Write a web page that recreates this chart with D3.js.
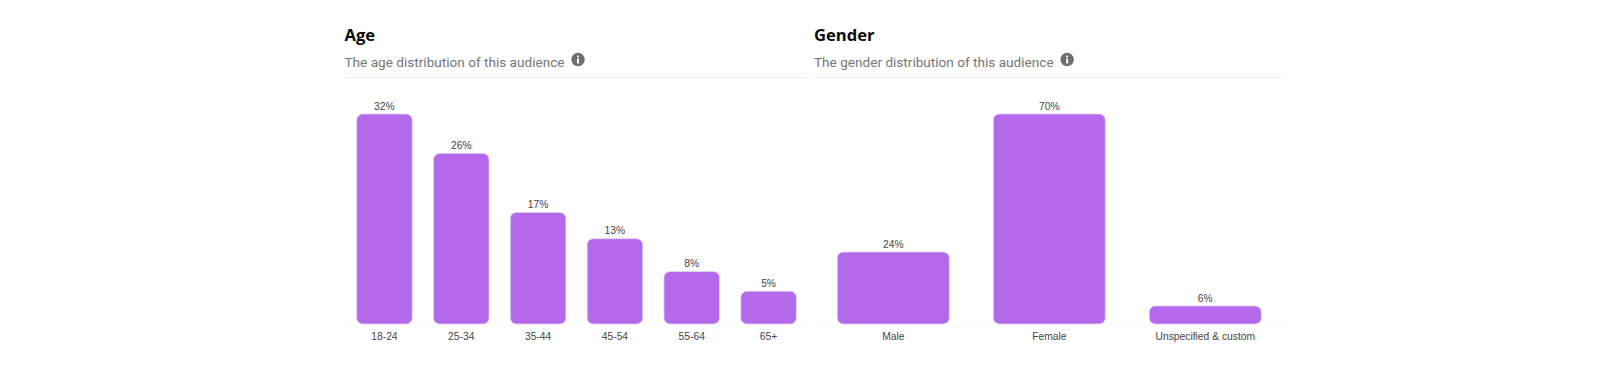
<!DOCTYPE html>
<html>
<head>
<meta charset="utf-8">
<script src="https://cdn.jsdelivr.net/npm/d3@7"></script>
<style>
  html, body { margin: 0; padding: 0; background: #fff; overflow: hidden; }
  .title { font-family: "Open Sans", sans-serif; font-size: 16.6px; font-weight: 700; fill: #0a0a0a; }
  .subtitle { font-family: Roboto, sans-serif; font-size: 13.6px; fill: #767676; }
  .value, .tick text { font-family: "Liberation Sans", Arial, sans-serif; font-size: 10.3px; fill: #444; }
</style>
</head>
<body>
<div id="chart"></div>
<script>
  // Age panel data
  const ageLabels = ["18-24", "25-34", "35-44", "45-54", "55-64", "65+"];
  const ageValues = [32, 26, 17, 13, 8, 5];

  // Gender panel data
  const genderLabels = ["Male", "Female", "Unspecified & custom"];
  const genderValues = [24, 70, 6];

  const width = 1600;
  const height = 369;
  const baseline = 324;
  const topY = 114;

  const svg = d3.select("#chart")
    .append("svg")
    .attr("width", width)
    .attr("height", height)
    .style("display", "block");

  function drawPanel(opts) {
    const g = svg.append("g");

    g.append("text")
      .attr("class", "title")
      .attr("x", opts.left)
      .attr("y", 41)
      .text(opts.title);

    const sub = g.append("text")
      .attr("class", "subtitle")
      .attr("x", opts.left)
      .attr("y", 67)
      .text(opts.subtitle);

    // info icon sits just after the subtitle
    const iconX = opts.left + sub.node().getComputedTextLength() + 13.5;
    const icon = g.append("g").attr("transform", "translate(" + iconX + ",59.5)");
    icon.append("circle").attr("r", 6.7).attr("fill", "#6f6f6f");
    icon.append("circle").attr("cy", -3).attr("r", 1.1).attr("fill", "#fff");
    icon.append("rect")
      .attr("x", -1).attr("y", -1).attr("width", 2).attr("height", 5)
      .attr("fill", "#fff");

    g.append("line")
      .attr("x1", opts.left)
      .attr("x2", opts.right)
      .attr("y1", 77.5)
      .attr("y2", 77.5)
      .attr("stroke", "#efeff1");

    const x = d3.scaleBand()
      .domain(opts.labels)
      .range(opts.range)
      .paddingInner(opts.padding)
      .paddingOuter(opts.padding / 2);

    const y = d3.scaleLinear()
      .domain([0, d3.max(opts.values)])
      .range([baseline, topY]);

    const axis = g.append("g")
      .attr("transform", "translate(0," + (baseline + 0.5) + ")")
      .call(d3.axisBottom(x).tickSize(0).tickPadding(8.5));
    axis.select(".domain").attr("stroke", "#f6f6f7");

    const rows = opts.labels.map((label, i) => ({ label: label, value: opts.values[i] }));

    g.selectAll(".bar")
      .data(rows)
      .enter()
      .append("rect")
      .attr("class", "bar")
      .attr("x", d => x(d.label))
      .attr("y", d => y(d.value))
      .attr("width", x.bandwidth())
      .attr("height", d => baseline - y(d.value))
      .attr("rx", 6)
      .attr("fill", "#b469eb")
      .attr("stroke", "#e6d2f8")
      .attr("stroke-width", 0.8);

    g.selectAll(".value")
      .data(rows)
      .enter()
      .append("text")
      .attr("class", "value")
      .attr("x", d => x(d.label) + x.bandwidth() / 2)
      .attr("y", d => y(d.value) - 4.5)
      .attr("text-anchor", "middle")
      .text(d => d.value + "%");
  }

  drawPanel({
    title: "Age",
    subtitle: "The age distribution of this audience",
    labels: ageLabels,
    values: ageValues,
    left: 344.5,
    right: 807,
    range: [346, 807],
    padding: 0.277
  });

  drawPanel({
    title: "Gender",
    subtitle: "The gender distribution of this audience",
    labels: genderLabels,
    values: genderValues,
    left: 814,
    right: 1283,
    range: [815.3, 1283.3],
    padding: 0.282
  });
</script>
</body>
</html>
